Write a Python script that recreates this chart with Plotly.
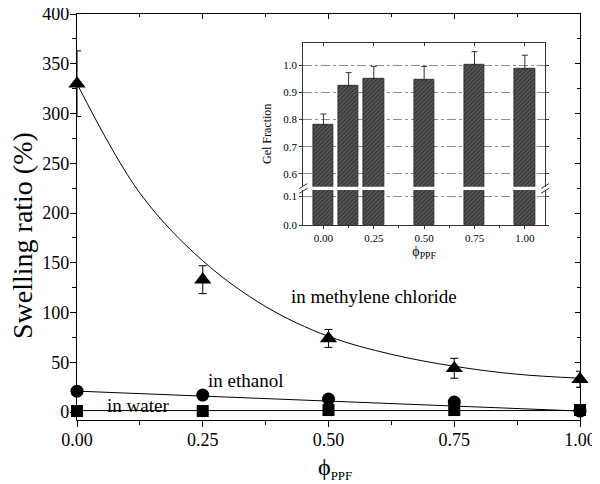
import plotly.graph_objects as go

# ---------------- data ----------------
phi = [0.0, 0.25, 0.5, 0.75, 1.0]
swell_mc = [330, 133, 74, 44, 33]          # methylene chloride
swell_mc_err = [33, 14, 9, 10, 8]
swell_eth = [21, 17, 13, 10, 1]            # ethanol
swell_water = [1, 1, 2, 2, 2]              # water

fit_x = [0.0, 0.125, 0.25, 0.375, 0.5, 0.625, 0.75, 0.875, 1.0]
fit_mc = [330, 220, 152, 106, 76, 58, 46, 38, 34]
eth_line_x = [0.0, 1.0]
eth_line_y = [21, 1]
water_line_x = [0.0, 1.0]
water_line_y = [1.5, 1.5]

gel_x = [0.0, 0.125, 0.25, 0.5, 0.75, 1.0]
gel_frac = [0.78, 0.924, 0.95, 0.945, 1.0, 0.985]
gel_err = [0.04, 0.048, 0.045, 0.05, 0.049, 0.051]

main_xticks = [0.0, 0.25, 0.5, 0.75, 1.0]
main_xticklabels = ["0.00", "0.25", "0.50", "0.75", "1.00"]
inset_upper_ticks = [0.6, 0.7, 0.8, 0.9, 1.0]
inset_lower_ticks = [0.0, 0.1]

FONT = "Liberation Serif"

# ---------------- geometry (page has an 8px body margin) ----------------
W, H = 592, 476
ML, MR, MT, MB = 69, 20, 6, 64
PW, PH = W - ML - MR, H - MT - MB
REF_L, REF_B = 77, 420   # plot-area left / bottom in page pixels


def px(xp):
    return (xp - REF_L) / PW


def py(yp):
    return (REF_B - yp) / PH


fig = go.Figure()

# ---------------- main plot ----------------
fig.add_trace(go.Scatter(x=fit_x, y=fit_mc, mode="lines", line=dict(color="black", width=1, shape="spline"),
                         hoverinfo="skip", showlegend=False))
fig.add_trace(go.Scatter(x=eth_line_x, y=eth_line_y, mode="lines", line=dict(color="black", width=1),
                         hoverinfo="skip", showlegend=False))
fig.add_trace(go.Scatter(x=water_line_x, y=water_line_y, mode="lines", line=dict(color="black", width=1),
                         hoverinfo="skip", showlegend=False))
fig.add_trace(go.Scatter(x=phi, y=swell_water, mode="markers", cliponaxis=False,
                         marker=dict(symbol="square", size=12, color="black"), showlegend=False))
fig.add_trace(go.Scatter(x=phi, y=swell_eth, mode="markers", cliponaxis=False,
                         marker=dict(symbol="circle", size=13, color="black"), showlegend=False))
fig.add_trace(go.Scatter(x=phi, y=swell_mc, mode="markers", cliponaxis=False,
                         marker=dict(symbol="triangle-up", size=15, color="black"),
                         error_y=dict(type="data", array=swell_mc_err, color="black", thickness=1, width=4),
                         showlegend=False))
# dummy trace to realise top/right inward-ticked axes
fig.add_trace(go.Scatter(x=[], y=[], xaxis="x4", yaxis="y4", showlegend=False, hoverinfo="skip"))

# ---------------- inset ----------------
bar_marker = dict(color="#5a5a5a",
                  pattern=dict(shape="/", fgcolor="#111111", size=3, solidity=0.5, fillmode="overlay"),
                  line=dict(color="#222222", width=0.8))
fig.add_trace(go.Bar(x=gel_x, y=gel_frac, width=0.1, xaxis="x2", yaxis="y2", marker=bar_marker,
                     showlegend=False))
fig.add_trace(go.Bar(x=gel_x, y=gel_frac, width=0.1, xaxis="x3", yaxis="y3", marker=bar_marker,
                     error_y=dict(type="data", symmetric=False, array=gel_err, arrayminus=[0] * len(gel_err),
                                  color="#333333", thickness=1, width=3),
                     showlegend=False))

axis_font = dict(family=FONT, size=18, color="black")
inset_font = dict(family=FONT, size=11, color="black")

fig.update_layout(
    width=W, height=H,
    margin=dict(l=ML, r=MR, t=MT, b=MB, autoexpand=False),
    paper_bgcolor="white", plot_bgcolor="white",
    font=dict(family=FONT, color="black"),
    showlegend=False,
    bargap=0,
    xaxis=dict(domain=[0, 1], range=[0, 1], tickvals=main_xticks, ticktext=main_xticklabels,
               ticks="outside", ticklen=6, tickwidth=1.2, tickcolor="black",
               minor=dict(dtick=0.125, tick0=0, ticks="outside", ticklen=4, tickwidth=1.2, tickcolor="black"),
               showline=True, linecolor="black", linewidth=1.3, showgrid=False, zeroline=False,
               tickfont=axis_font, automargin=False, ticklabelstandoff=-3, ticklabeloverflow="allow"),
    yaxis=dict(domain=[0, 1], range=[-8, 400], dtick=50, tick0=0,
               ticks="outside", ticklen=6, tickwidth=1.2, tickcolor="black",
               minor=dict(dtick=25, tick0=0, ticks="outside", ticklen=4, tickwidth=1.2, tickcolor="black"),
               showline=True, linecolor="black", linewidth=1.3, showgrid=False, zeroline=False,
               tickfont=axis_font, automargin=False, ticklabelstandoff=-3, ticklabeloverflow="allow"),
    xaxis4=dict(overlaying="x", side="top", range=[0, 1], tickvals=main_xticks, showticklabels=False,
                ticks="inside", ticklen=5, tickwidth=1.2, tickcolor="black", automargin=False,
                minor=dict(dtick=0.125, tick0=0, ticks="inside", ticklen=3, tickwidth=1.2, tickcolor="black"),
                showline=True, linecolor="black", linewidth=1.3, showgrid=False, zeroline=False),
    yaxis4=dict(overlaying="y", side="right", range=[-8, 400], dtick=50, tick0=0, showticklabels=False,
                ticks="inside", ticklen=5, tickwidth=1.2, tickcolor="black", automargin=False,
                minor=dict(dtick=25, tick0=0, ticks="inside", ticklen=3, tickwidth=1.2, tickcolor="black"),
                showline=True, linecolor="black", linewidth=1.3, showgrid=False, zeroline=False),
    # inset axes
    xaxis2=dict(domain=[px(303.3), px(545)], anchor="y2", range=[-0.1, 1.1], tickvals=main_xticks,
                ticktext=main_xticklabels, ticks="outside", ticklen=3, tickcolor="#333", automargin=False,
                minor=dict(dtick=0.125, tick0=0, ticks="outside", ticklen=2, tickcolor="#333"),
                showline=True, linecolor="#333", linewidth=1, showgrid=False, zeroline=False,
                tickfont=inset_font,
                title=dict(text="ϕ<sub>PPF</sub>", font=dict(family=FONT, size=14), standoff=2)),
    xaxis3=dict(domain=[px(303.3), px(545)], anchor="y3", matches="x2", side="top", range=[-0.1, 1.1],
                tickvals=main_xticks, showticklabels=False, ticks="inside", ticklen=3, tickcolor="#333",
                automargin=False,
                showline=True, linecolor="#333", linewidth=1, showgrid=False, zeroline=False),
    yaxis2=dict(domain=[py(225), py(190)], anchor="x2", range=[0, 0.121], tickvals=inset_lower_ticks,
                tickformat=".1f", ticks="outside", ticklen=3, tickcolor="#333", automargin=False,
                showline=True, linecolor="#333", linewidth=1, mirror="ticks", zeroline=False,
                showgrid=True, gridcolor="#8c8c8c", griddash="dashdot", gridwidth=1,
                tickfont=inset_font),
    yaxis3=dict(domain=[py(186.7), py(42.7)], anchor="x3", range=[0.553, 1.082], tickvals=inset_upper_ticks,
                tickformat=".1f", ticks="outside", ticklen=3, tickcolor="#333", automargin=False,
                showline=True, linecolor="#333", linewidth=1, mirror="ticks", zeroline=False,
                showgrid=True, gridcolor="#8c8c8c", griddash="dashdot", gridwidth=1,
                tickfont=inset_font),
)

# axis titles of the main plot
fig.add_annotation(x=px(22), y=py(236), xref="paper", yref="paper", text="Swelling ratio (%)",
                   xanchor="center", yanchor="middle",
                   showarrow=False, textangle=-90, font=dict(family=FONT, size=28, color="black"))
fig.add_annotation(x=px(335), y=py(469), xref="paper", yref="paper",
                   text="ϕ<sub><span style='font-size:13px'>PPF</span></sub>",
                   xanchor="center", yanchor="middle",
                   showarrow=False, font=dict(family=FONT, size=24, color="black"))

# labels in main plot
fig.add_annotation(x=0.591, y=116, xref="x", yref="y", text="in methylene chloride", showarrow=False,
                   font=dict(family=FONT, size=19, color="black"))
fig.add_annotation(x=0.334, y=32, xref="x", yref="y", text="in ethanol", showarrow=False,
                   font=dict(family=FONT, size=19, color="black"))
fig.add_annotation(x=0.121, y=7, xref="x", yref="y", text="in water", showarrow=False,
                   font=dict(family=FONT, size=19, color="black"))
# inset y title
fig.add_annotation(x=px(267), y=py(134), xref="paper", yref="paper", text="Gel Fraction", showarrow=False,
                   xanchor="center", yanchor="middle",
                   textangle=-90, font=dict(family=FONT, size=12, color="black"))

# axis-break marks on the inset
for xb in (303.3, 545):
    for yc in (186.0, 190.8):
        fig.add_shape(type="line", xref="paper", yref="paper",
                      x0=px(xb - 4), y0=py(yc + 2.5), x1=px(xb + 4), y1=py(yc - 2.5),
                      line=dict(color="#333", width=1))

fig.write_html("out.html")
